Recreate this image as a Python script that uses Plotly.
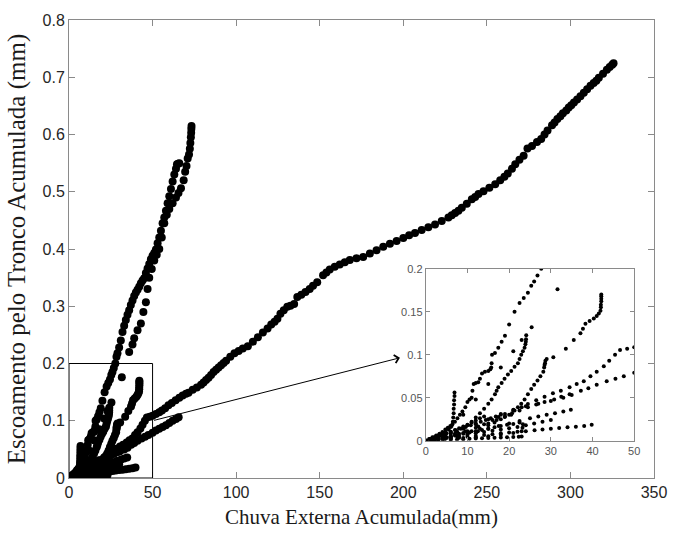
import plotly.graph_objects as go

# Cumulative external rainfall (mm) vs. cumulative stemflow (mm), one series per tree/event
s1_x = [0, 0.8, 1.6, 2.5, 3.3, 4.0, 4.7, 5.3, 5.9, 6.4, 7.0, 7.6, 8.2, 8.8, 9.5, 10.0, 10.5, 11.0, 11.2, 11.5,
        12.0, 12.6, 13.0, 13.5, 14.2, 15.0, 15.5, 15.7, 15.8, 15.9, 16.6, 17.4, 18.2, 19.0, 20.0, 21.3, 22.5, 23.5,
        24.5, 25.3, 26.0, 26.8, 27.7, 28.4, 29.0, 30.0, 31.0, 32.0, 33.0, 34.0, 35.0, 36.0, 37.0, 38.0, 39.0,
        40.0, 41.0, 42.0, 43.0, 44.0, 45.0, 46.0, 47.0, 48.0, 49.0, 50.0, 51.0, 52.0, 53.0, 54.0, 55.0, 56.0,
        57.0, 58.0, 59.0, 60.0, 61.0, 62.0, 63.0, 64.0, 64.6, 65.3, 66.0]
s1_y = [0, 0.002, 0.004, 0.006, 0.008, 0.010, 0.013, 0.015, 0.017, 0.019, 0.022, 0.026, 0.030, 0.034, 0.039,
        0.045, 0.048, 0.050, 0.058, 0.066, 0.067, 0.068, 0.072, 0.078, 0.080, 0.081, 0.083, 0.085, 0.090, 0.0998,
        0.102, 0.108, 0.115, 0.122, 0.135, 0.150, 0.160, 0.166, 0.172, 0.180, 0.185, 0.192, 0.200, 0.212, 0.218,
        0.228, 0.240, 0.255, 0.266, 0.276, 0.285, 0.293, 0.302, 0.310, 0.318, 0.324, 0.329, 0.334, 0.340, 0.345,
        0.349, 0.358, 0.366, 0.374, 0.382, 0.388, 0.393, 0.399, 0.410, 0.420, 0.432, 0.445, 0.455, 0.467, 0.480,
        0.492, 0.505, 0.518, 0.530, 0.540, 0.548, 0.549, 0.550]

s2_x = [0, 3, 6, 9, 12, 15, 18, 21, 23, 25.4, 31.6, 36, 38, 39, 41, 43, 44.5, 46, 47, 48, 49.5, 51, 52.5, 54,
        55.5, 57, 58.5, 60, 62, 64, 65.5, 67, 68.6, 69.5, 70.3, 71, 71.8, 72.3, 72.6, 72.9, 73.1, 73.2, 73.3]
s2_y = [0, 0.006, 0.016, 0.030, 0.048, 0.066, 0.085, 0.104, 0.117, 0.132, 0.176, 0.220, 0.233, 0.244, 0.258,
        0.270, 0.290, 0.307, 0.330, 0.350, 0.365, 0.380, 0.390, 0.400, 0.420, 0.445, 0.460, 0.470, 0.480, 0.490,
        0.498, 0.506, 0.520, 0.535, 0.545, 0.558, 0.565, 0.575, 0.585, 0.595, 0.603, 0.610, 0.615]

s3_x = [0, 2, 4, 6, 8, 10, 12, 14, 16, 17.4, 19, 21, 23, 24.5, 26.5, 28.5, 30.5, 32.4, 34.5, 36.2, 37.9, 39.5,
        41, 42.7, 44, 45.4, 46.6, 48.3, 50, 52, 54, 55.6, 57.5, 59.5, 61.5, 63.8, 66, 68, 70, 71.5, 74, 76.5, 79,
        80.5, 82, 83.5, 85, 86.5, 88, 89.5, 91, 92.5, 94, 96.5, 99, 101.5, 104, 107, 110, 113, 116, 118.8, 121,
        123, 124.7, 126.5, 128.5, 130.6, 132.5, 134.7, 136.6, 139, 141.5, 144, 146, 148.5, 152, 154, 156, 159,
        162, 165, 168, 172, 176, 180, 184, 188, 192, 196, 200, 203.5, 207, 211, 215, 219, 223, 227, 229, 231,
        233, 235, 238, 241, 243, 245, 248, 251.5, 255, 258, 260.5, 262.5, 265, 267, 269.5, 272, 274.3, 277,
        280, 282.5, 284.5, 286.3, 289, 290.5, 292.2, 294, 295.5, 297.5, 299, 300.5, 302.1, 304, 306, 308, 310,
        312, 313.9, 315.5, 317, 319.5, 321.8, 323.5, 325, 325.8]
s3_y = [0, 0.001, 0.003, 0.005, 0.008, 0.011, 0.015, 0.019, 0.024, 0.0274, 0.031, 0.035, 0.039, 0.0427, 0.047,
        0.051, 0.055, 0.058, 0.062, 0.066, 0.069, 0.075, 0.080, 0.0865, 0.093, 0.100, 0.1055, 0.107, 0.1086,
        0.112, 0.115, 0.118, 0.122, 0.127, 0.131, 0.136, 0.140, 0.144, 0.147, 0.149, 0.154, 0.158, 0.163, 0.167,
        0.171, 0.175, 0.180, 0.185, 0.189, 0.193, 0.197, 0.201, 0.205, 0.212, 0.218, 0.222, 0.226, 0.230, 0.238,
        0.246, 0.254, 0.261, 0.268, 0.273, 0.278, 0.287, 0.293, 0.299, 0.301, 0.304, 0.316, 0.320, 0.325, 0.330,
        0.336, 0.342, 0.354, 0.359, 0.364, 0.369, 0.373, 0.377, 0.381, 0.384, 0.386, 0.392, 0.398, 0.404, 0.409,
        0.414, 0.419, 0.424, 0.428, 0.433, 0.438, 0.443, 0.449, 0.455, 0.459, 0.463, 0.467, 0.472, 0.479, 0.487,
        0.491, 0.496, 0.501, 0.507, 0.513, 0.520, 0.526, 0.532, 0.540, 0.548, 0.556, 0.563, 0.5756, 0.580, 0.587,
        0.592, 0.600, 0.607, 0.616, 0.621, 0.627, 0.632, 0.637, 0.642, 0.647, 0.651, 0.656, 0.661, 0.667, 0.673,
        0.679, 0.685, 0.690, 0.694, 0.699, 0.706, 0.713, 0.718, 0.722, 0.7245]

s4_x = [0, 2, 4.7, 7, 9.5, 12.6, 15, 17, 18.95, 20.5, 22.5, 24.5, 26.5, 28.5, 30.8, 32.5, 34.5, 37.2, 39, 41,
        43.4, 45.5, 47.5, 50, 52, 54, 56, 58, 60, 62, 64, 65.6]
s4_y = [0, 0.001, 0.005, 0.008, 0.011, 0.0164, 0.020, 0.024, 0.0274, 0.030, 0.035, 0.039, 0.042, 0.045, 0.048,
        0.051, 0.054, 0.058, 0.061, 0.065, 0.069, 0.072, 0.075, 0.079, 0.083, 0.086, 0.089, 0.092, 0.096, 0.100,
        0.103, 0.106]

s5_x = [0, 1.5, 3, 5, 7, 9, 11, 13, 15, 16.5, 18, 19, 20, 20.7, 21.3, 22.1, 22.9, 23.7, 24.5, 25.3, 26, 26.8,
        27.5, 28.2, 28.4, 28.5, 28.6, 28.7, 29, 30.6, 33.6, 35.5, 37.1, 37.7, 38.3, 39.3, 40.3, 41.0, 41.5, 41.9,
        42, 42, 42.1, 42.1, 42.1, 42.1]
s5_y = [0, 0.001, 0.002, 0.004, 0.006, 0.009, 0.011, 0.014, 0.018, 0.021, 0.025, 0.028, 0.030, 0.032, 0.035,
        0.039, 0.043, 0.048, 0.054, 0.060, 0.065, 0.070, 0.075, 0.080, 0.085, 0.088, 0.090, 0.093, 0.095, 0.097,
        0.107, 0.117, 0.125, 0.130, 0.136, 0.139, 0.142, 0.145, 0.148, 0.151, 0.155, 0.158, 0.162, 0.165, 0.168,
        0.170]

s6_x = [0, 1.5, 3, 4.5, 6, 7.5, 9, 10, 11, 12, 13, 14, 15, 15.8, 16.6, 17, 17.4, 18.2, 18.9, 19.7, 20.5, 21.3,
        22.1, 22.5, 22.9, 23.3, 23.7, 23.9, 24, 24.05, 24.1]
s6_y = [0, 0.0015, 0.003, 0.005, 0.008, 0.011, 0.015, 0.018, 0.022, 0.027, 0.032, 0.037, 0.043, 0.048, 0.054,
        0.058, 0.062, 0.067, 0.072, 0.077, 0.081, 0.086, 0.090, 0.095, 0.100, 0.104, 0.108, 0.112, 0.115, 0.118,
        0.1227]

s7_x = [0, 1, 2, 3, 4, 4.7, 5.5, 6.2, 6.5, 6.6, 6.7, 6.7, 6.8, 6.8, 6.9, 6.9]
s7_y = [0, 0.002, 0.004, 0.006, 0.008, 0.010, 0.013, 0.017, 0.022, 0.027, 0.032, 0.037, 0.042, 0.047, 0.052,
        0.056]

s8_x = [0, 3, 6, 9, 12, 15, 18, 21, 24, 26.1, 28, 30, 32, 34, 36, 38, 39.8]
s8_y = [0, 0.001, 0.002, 0.003, 0.004, 0.005, 0.007, 0.009, 0.011, 0.0122, 0.013, 0.0138, 0.0146, 0.0155,
        0.0163, 0.0172, 0.0185]

s9_x = [0, 2.5, 5, 7.5, 10, 12.5, 15, 17.5, 20, 22.5, 25, 27, 29, 31, 33, 34.8]
s9_y = [0, 0.001, 0.003, 0.005, 0.008, 0.011, 0.014, 0.017, 0.020, 0.023, 0.026, 0.028, 0.030, 0.032, 0.034,
        0.036]

s10_x = [0, 1.5, 3, 4.5, 6, 7.5, 9, 10.5, 12, 13.5, 15, 16.5, 18, 19.5, 21, 22.3, 23]
s10_y = [0, 0.0003, 0.0006, 0.0009, 0.0012, 0.0015, 0.0018, 0.0021, 0.0024, 0.0027, 0.003, 0.0033, 0.0036,
         0.0039, 0.0042, 0.0045, 0.0048]

s11_x = [0, 1.5, 3, 4.5, 6, 7.5, 9, 10.5, 12, 13.5, 15, 16.5, 18, 19.5, 21, 22.5]
s11_y = [0, 0.001, 0.002, 0.0035, 0.005, 0.0065, 0.008, 0.0095, 0.011, 0.0125, 0.014, 0.0155, 0.017, 0.0185,
         0.0195, 0.021]

s12_x = [0, 1.2, 2.4, 3.6, 4.8, 6, 7.2, 8.4, 9.6, 10.8, 12, 13.2, 14.4, 15.6, 16.8, 18]
s12_y = [0, 0.002, 0.004, 0.006, 0.008, 0.010, 0.012, 0.014, 0.016, 0.018, 0.020, 0.022, 0.024, 0.026, 0.028,
         0.030]

s13_x = [0, 3, 6, 9, 12, 15, 18, 21, 24, 27, 30, 33, 35]
s13_y = [0, 0.004, 0.009, 0.014, 0.019, 0.025, 0.031, 0.036, 0.040, 0.043, 0.046, 0.050, 0.053]

s14_x = [0, 2, 4, 6, 8, 10, 12, 14, 16, 18, 20, 22, 23, 23.2, 23.3]
s14_y = [0, 0.0008, 0.0016, 0.0025, 0.0035, 0.0045, 0.0055, 0.0065, 0.0075, 0.0085, 0.0095, 0.0105, 0.011,
         0.015, 0.019]

s15_x = [0, 1, 2, 3, 4, 5, 6, 7, 8, 9, 10, 11, 12, 13, 14]
s15_y = [0, 0.0015, 0.003, 0.0048, 0.0066, 0.0085, 0.0105, 0.0125, 0.0145, 0.0165, 0.0185, 0.021, 0.0235,
         0.026, 0.028]

s16_x = [0, 2, 4, 6, 8, 10, 12, 14, 16, 18, 20, 22, 24, 26, 28, 30]
s16_y = [0, 0.0012, 0.0025, 0.004, 0.0055, 0.007, 0.0085, 0.01, 0.0115, 0.013, 0.0145, 0.016, 0.018, 0.02,
         0.022, 0.024]

series = [(s1_x, s1_y), (s2_x, s2_y), (s3_x, s3_y), (s4_x, s4_y), (s5_x, s5_y), (s6_x, s6_y),
          (s7_x, s7_y), (s8_x, s8_y), (s9_x, s9_y), (s10_x, s10_y), (s11_x, s11_y), (s12_x, s12_y),
          (s13_x, s13_y), (s14_x, s14_y), (s15_x, s15_y), (s16_x, s16_y)]

x_ticks = [0, 50, 100, 150, 200, 250, 300, 350]
y_ticks = [0, 0.1, 0.2, 0.3, 0.4, 0.5, 0.6, 0.7, 0.8]
inset_x_ticks = [0, 10, 20, 30, 40, 50]
inset_y_ticks = [0, 0.05, 0.1, 0.15, 0.2]

fig = go.Figure()

# main panel: large dots
for sx, sy in series:
    fig.add_trace(go.Scatter(x=sx, y=sy, mode="markers", xaxis="x", yaxis="y",
                             marker=dict(color="black", size=8), showlegend=False, hoverinfo="skip"))

# zoomed panel: same data, small dots
for sx, sy in series:
    fig.add_trace(go.Scatter(x=sx, y=sy, mode="markers", xaxis="x2", yaxis="y2",
                             marker=dict(color="black", size=4), showlegend=False, hoverinfo="skip"))

axis_gray = "#8a8a8a"
main_font = dict(family="Liberation Sans, Arial, sans-serif", size=16, color="#262626")
serif = "Liberation Serif, Times New Roman, serif"

fig.update_layout(
    width=679, height=537,
    margin=dict(l=69, r=18, t=16, b=55),
    paper_bgcolor="white", plot_bgcolor="white",
    xaxis=dict(domain=[0, 1], range=[0, 350], tickvals=x_ticks, ticks="inside", ticklen=6,
               tickcolor=axis_gray, showline=True, linecolor=axis_gray, linewidth=1, mirror="ticks",
               showgrid=False, zeroline=False, tickfont=main_font,
               title=dict(text="Chuva Externa Acumulada(mm)",
                          font=dict(family=serif, size=21, color="#1a1a1a"), standoff=9)),
    yaxis=dict(domain=[0, 1], range=[0, 0.8], tickvals=y_ticks, ticks="inside", ticklen=6,
               tickcolor=axis_gray, showline=True, linecolor=axis_gray, linewidth=1, mirror="ticks",
               showgrid=False, zeroline=False, tickfont=main_font,
               title=dict(text="Escoamento pelo Tronco Acumulada (mm)",
                          font=dict(family=serif, size=25, color="#1a1a1a"), standoff=9)),
    xaxis2=dict(domain=[0.6098, 0.9662], anchor="y2", range=[0, 50], tickvals=inset_x_ticks,
                ticks="inside", ticklen=4, tickcolor=axis_gray, showline=True, linecolor=axis_gray,
                mirror="ticks", showgrid=False, zeroline=False,
                tickfont=dict(family="Liberation Sans, Arial, sans-serif", size=11, color="#555555")),
    yaxis2=dict(domain=[0.0815, 0.4571], anchor="x2", range=[0, 0.2], tickvals=inset_y_ticks,
                ticks="inside", ticklen=4, tickcolor=axis_gray, showline=True, linecolor=axis_gray,
                mirror="ticks", showgrid=False, zeroline=False,
                tickfont=dict(family="Liberation Sans, Arial, sans-serif", size=11, color="#555555")),
    shapes=[dict(type="rect", xref="x", yref="y", x0=0, y0=0, x1=50, y1=0.2,
                 line=dict(color="black", width=1), layer="above")],
    annotations=[dict(x=198, y=0.21, xref="x", yref="y", ax=50, ay=0.1, axref="x", ayref="y",
                      text="", showarrow=True, arrowhead=4, arrowsize=1.6, arrowwidth=1,
                      arrowcolor="black")],
)

fig.write_html("out.html")
